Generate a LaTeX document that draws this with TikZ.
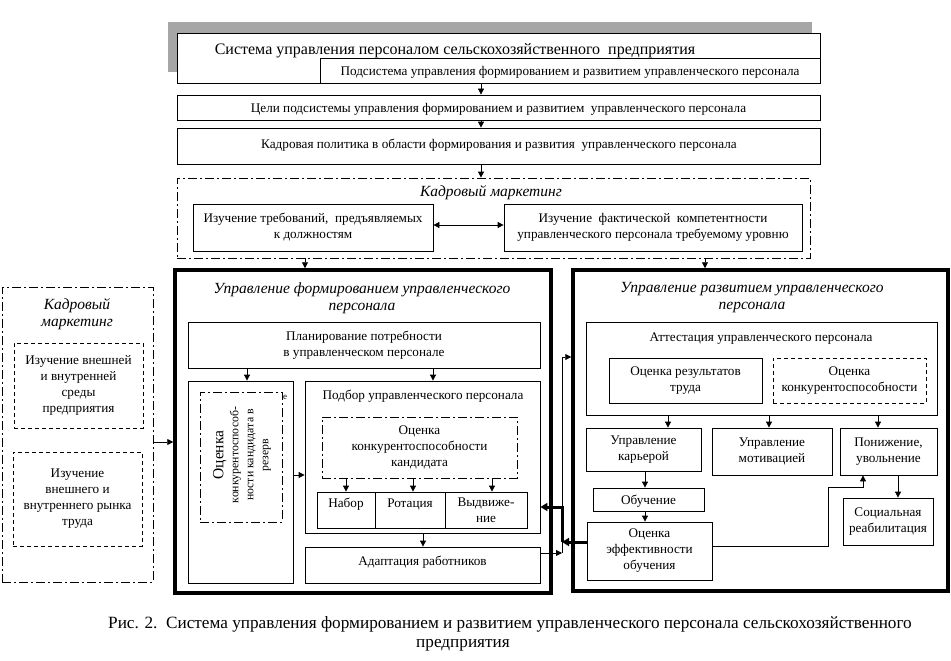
\documentclass[tikz,border=0pt]{standalone}
\usepackage{fontspec}
\setmainfont{Liberation Serif}
\usetikzlibrary{arrows.meta}
\definecolor{shadowgray}{RGB}{166,166,166}
\begin{document}
\begin{tikzpicture}[x=1pt,y=-1pt,
  every node/.style={font=\fontsize{13.2}{16}\selectfont, inner sep=0pt},
  sz/.style 2 args={minimum width=#1pt, minimum height=#2pt},
  bx/.style={draw, line width=0.8pt, align=center},
  thk/.style={draw, line width=3.5pt, align=center},
  dd/.style={draw, line width=0.8pt, dash pattern=on 9pt off 3pt on 2pt off 3pt, align=center},
  ds/.style={draw, line width=0.8pt, dash pattern=on 4pt off 3pt, align=center},
  arr/.style={line width=0.8pt, -{Triangle[length=6pt,width=6pt]}},
  darr/.style={line width=0.8pt, {Triangle[length=6pt,width=6pt]}-{Triangle[length=6pt,width=6pt]}},
  tarr/.style={line width=3pt, line join=miter, -{Triangle[length=7pt,width=8pt]}},
  ttl/.style={font=\fontsize{15.5}{17}\selectfont\itshape, align=center},
  one/.style={text depth=0pt},
]
\useasboundingbox (0,0) rectangle (951,661);
% top block
\fill[shadowgray] (168,22) rectangle (812,72);
\node[bx, fill=white, sz={643}{50}] (sys) at (498.5,58) {};
\node[font=\fontsize{16}{18}\selectfont] (systxt) at (455,50.5) {Система управления персоналом сельскохозяйственного\ \ предприятия};
\node[bx, one, sz={500}{25}] (sub) at (570,70.5) {Подсистема управления формированием и развитием управленческого персонала};
\node[bx, one, sz={643}{25}] (goals) at (498.5,107.5) {Цели подсистемы управления формированием и развитием\ \ управленческого персонала};
\node[bx, sz={643}{36}] (policy) at (498.5,146) {};
\node (policytxt) at (499,145) {Кадровая политика в области формирования и развития\ \ управленческого персонала};
\coordinate (cx) at (481,0);
\draw[arr] (sys.south -| cx) -- (goals.north -| cx);
\draw[arr] (goals.south -| cx) -- (policy.north -| cx);
% marketing
\node[dd, sz={633}{80}] (mk) at (493.5,218) {};
\node[ttl] (mktitle) at (491,193) {Кадровый маркетинг};
\node[bx, sz={240}{47}] (req) at (313,227.5) {Изучение требований,\ \ предъявляемых\\к должностям};
\node[bx, sz={298}{47}] (comp) at (653,227.5) {Изучение\ \ фактической\ \ компетентности\\управленческого персонала требуемому уровню};
\draw[arr] (policy.south -| cx) -- (mk.north -| cx);
\coordinate (dy) at (0,225);
\draw[darr] (req.east |- dy) -- (comp.west |- dy);
% big boxes
\node[thk, sz={376}{323}] (L) at (363,431.5) {};
\node[thk, sz={375}{321}] (R) at (760.5,430.5) {};
\node[ttl] (Ltitle) at (362,298) {Управление формированием управленческого\\персонала};
\node[ttl] (Rtitle) at (752,298) {Управление развитием управленческого\\персонала};
\coordinate (ax1) at (305,0);
\coordinate (ax2) at (705,0);
\draw[arr] (mk.south -| ax1) -- (L.north -| ax1);
\draw[arr] (mk.south -| ax2) -- (R.north -| ax2);
% left outer marketing
\node[dd, sz={151}{295}] (lmk) at (77.5,434.5) {};
\node[ttl] (lmktitle) at (77,314) {Кадровый\\маркетинг};
\node[ds, sz={129}{85}] (lb1) at (78.5,385.5) {Изучение внешней\\и внутренней\\среды\\предприятия};
\node[ds, sz={129}{94}] (lb2) at (77.5,499) {Изучение\\внешнего и\\внутреннего рынка\\труда};
\coordinate (ly) at (0,442);
\draw[arr] (lmk.east |- ly) -- (L.west |- ly);
% left big box interior
\node[bx, sz={352}{46}] (plan) at (364,345) {Планирование потребности\\в управленческом персонале};
\node[bx, sz={105}{202}] (lcol) at (240.5,482) {};
\node[dd, sz={82}{130}] (rdash) at (241,457) {};
\node[rotate=90, align=center, font=\fontsize{11.8}{15}\selectfont] (rtxt) at (242,455)
  {{\fontsize{15.5}{17}\selectfont Оценка}\\конкурентоспособ-\\ности кандидата в\\резерв};
\node[font=\fontsize{9}{10}\selectfont] (rart) at (285,397) {е};
\node[bx, sz={235}{152}] (podbor) at (422.5,457) {};
\node (podbortxt) at (423,396) {Подбор управленческого персонала};
\node[dd, sz={195}{61}] (okk) at (419.5,447.5) {Оценка\\конкурентоспособности\\кандидата};
\node[bx, sz={58}{36}] (nabor) at (346,510) {};
\node[bx, sz={70}{36}] (rot) at (410,510) {};
\node (nabortxt) at (346,504) {Набор};
\node (rottxt) at (410,504) {Ротация};
\node[bx, sz={82}{36}] (vyd) at (486,510) {Выдвиже-\\ние};
\node[bx, sz={235}{36}] (adapt) at (422.5,565) {};
\node (adapttxt) at (422.5,562) {Адаптация работников};
\coordinate (p1) at (247,0);
\coordinate (p2) at (433,0);
\draw[arr] (plan.south -| p1) -- (lcol.north -| p1);
\draw[arr] (plan.south -| p2) -- (podbor.north -| p2);
\coordinate (q) at (0,475);
\draw[arr] (lcol.east |- q) -- (podbor.west |- q);
\draw[arr] (okk.south -| nabor) -- (nabor.north);
\coordinate (r2) at (413,0);
\coordinate (r3) at (492,0);
\draw[arr] (okk.south -| r2) -- (rot.north -| r2);
\draw[arr] (okk.south -| r3) -- (vyd.north -| r3);
\coordinate (s1) at (423,0);
\draw[arr] (podbor.south -| s1) -- (adapt.north -| s1);
% right big box interior
\node[bx, sz={351}{93}] (att) at (761.5,368.5) {};
\node (atttxt) at (761,339) {Аттестация управленческого персонала};
\node[bx, sz={153}{45}] (ores) at (685.5,380.5) {Оценка результатов\\труда};
\node[ds, sz={153}{45}] (okon) at (849.5,380.5) {Оценка\\конкурентоспособности};
\node[bx, sz={115}{43}] (kar) at (643.5,449.5) {Управление\\карьерой};
\node[bx, sz={120}{47}] (mot) at (772,451.5) {Управление\\мотивацией};
\node[bx, sz={97}{47}] (pon) at (888.5,451.5) {Понижение,\\увольнение};
\node[bx, one, sz={111}{23}] (obuch) at (648.5,499.5) {Обучение};
\node[bx, sz={125}{58}] (oef) at (649.5,551) {Оценка\\эффективности\\обучения};
\node[bx, sz={90}{47}] (soc) at (888,521.5) {Социальная\\реабилитация};
\coordinate (t1) at (668,0);
\coordinate (t2) at (769,0);
\coordinate (t3) at (878,0);
\draw[arr] (att.south -| t1) -- (kar.north -| t1);
\draw[arr] (att.south -| t2) -- (mot.north -| t2);
\draw[arr] (att.south -| t3) -- (pon.north -| t3);
\coordinate (u1) at (645,0);
\draw[arr] (kar.south -| u1) -- (obuch.north -| u1);
\draw[arr] (obuch.south -| u1) -- (oef.north -| u1);
\coordinate (v1) at (828,546);
\coordinate (v2) at (828,487);
\coordinate (v3) at (863,487);
\draw[arr] (oef.east |- v1) -- (v1) -- (v2) -- (v3) -- (pon.south -| v3);
\coordinate (w1) at (898,0);
\draw[arr] (pon.south -| w1) -- (soc.north -| w1);
% connectors between big boxes
\coordinate (j1) at (562,507);
\coordinate (j2) at (562,542);
\coordinate (j3) at (562,553);
\coordinate (j4) at (562,357);
\draw[arr] (j3) -- (j4) -- (R.west |- j4);
\draw[arr] (adapt.east |- j3) -- (j3);
\draw[tarr] (oef.west |- j2) -- (j2);
\draw[tarr] (j2) -- (j1) -- (podbor.east |- j1);
% caption
\node[font=\fontsize{17.2}{20}\selectfont] (cap1) at (510,624) {Рис. 2.\ \ Система управления формированием и развитием управленческого персонала сельскохозяйственного};
\node[font=\fontsize{17.2}{20}\selectfont] (cap2) at (463,645) {предприятия};
\end{tikzpicture}
\end{document}
